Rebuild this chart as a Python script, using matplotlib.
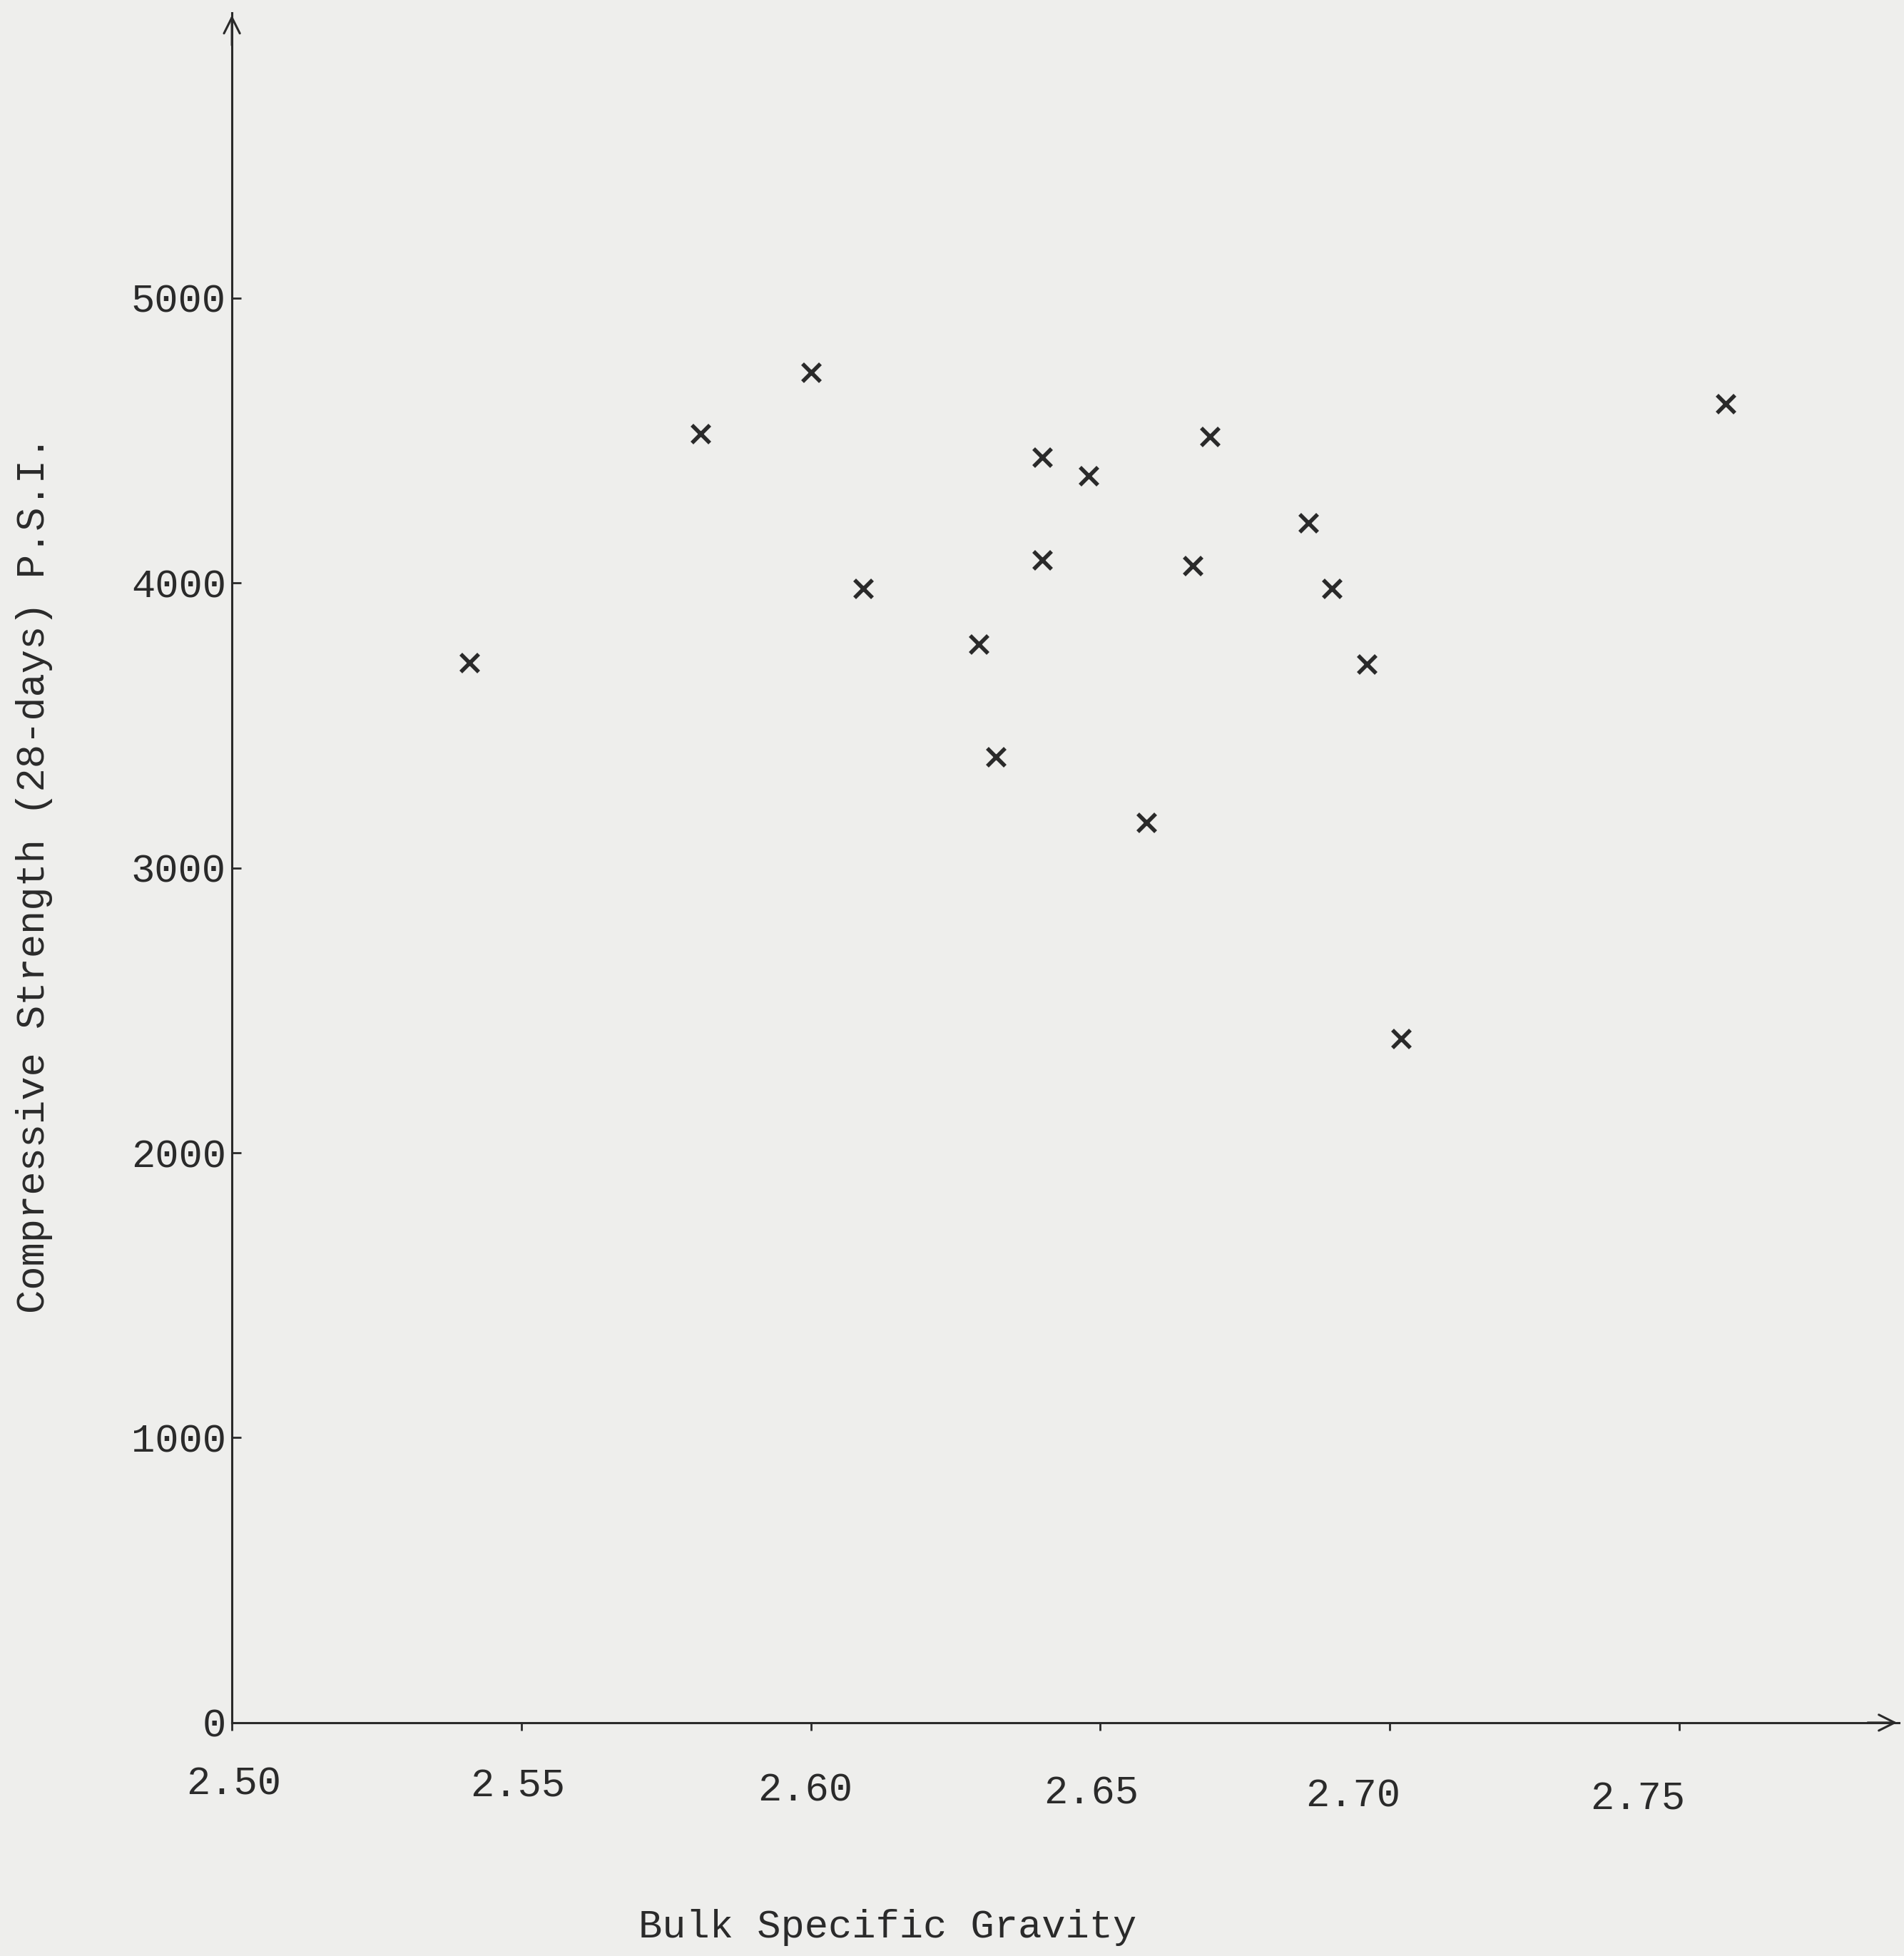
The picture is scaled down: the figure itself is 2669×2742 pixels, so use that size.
import matplotlib.pyplot as plt
from matplotlib.transforms import ScaledTranslation

# Compressive strength vs bulk specific gravity (typed chart)
gravity = [2.541, 2.581, 2.600, 2.609, 2.629, 2.632, 2.640, 2.640, 2.648,
           2.658, 2.666, 2.669, 2.686, 2.690, 2.696, 2.702, 2.758]
strength = [3720, 4525, 4740, 3980, 3785, 3390, 4440, 4080, 4375,
            3160, 4060, 4515, 4210, 3980, 3715, 2400, 4630]
x_ticks = [2.50, 2.55, 2.60, 2.65, 2.70, 2.75]
x_labels = ['2.50', '2.55', '2.60', '2.65', '2.70', '2.75']
y_ticks = [0, 1000, 2000, 3000, 4000, 5000]

paper = '#eeeeec'
ink = '#2a2a2a'
plt.rcParams['font.family'] = ['Liberation Mono', 'DejaVu Sans Mono']

fig = plt.figure(figsize=(26.69, 27.42), dpi=100, facecolor=paper)
ax = fig.add_axes([0.1218, 0.1193, 0.8756, 0.874])
ax.set_facecolor(paper)

ax.plot(gravity, strength, 'x', color=ink, markersize=18, markeredgewidth=4)

ax.set_xlim(2.5, 2.788)
ax.set_ylim(0, 6000)
ax.set_xticks(x_ticks)
ax.set_xticklabels(x_labels)
ax.set_yticks(y_ticks)

for side in ['top', 'right']:
    ax.spines[side].set_visible(False)
for side in ['left', 'bottom']:
    ax.spines[side].set_color(ink)
    ax.spines[side].set_linewidth(2.2)

ax.tick_params(axis='x', direction='out', length=8, width=2, colors=ink,
               labelsize=40, pad=36)
ax.tick_params(axis='y', direction='in', length=9, width=2, colors=ink,
               labelsize=40, pad=6)

# the typed labels drift a little from the ticks
shift_x = [2, -4, -6, -9, -37, -42]
shift_y = [0, -2, -6, -9, -12, -15]
for lab, dx, dy in zip(ax.get_xticklabels(), shift_x, shift_y):
    lab.set_transform(lab.get_transform() +
                      ScaledTranslation(dx / 72, dy / 72, fig.dpi_scale_trans))

# arrow heads at the ends of the axes
ax.annotate('', xy=(1.0, 0), xytext=(0.98, 0), xycoords='axes fraction',
            arrowprops=dict(arrowstyle='->', color=ink, lw=2.2, mutation_scale=40))
ax.annotate('', xy=(0, 1.0), xytext=(0, 0.98), xycoords='axes fraction',
            arrowprops=dict(arrowstyle='->', color=ink, lw=2.2, mutation_scale=40))

fig.text(0.018, 0.553, 'Compressive Strength (28-days) P.S.I.', rotation=90,
         fontsize=40, color=ink, ha='center', va='center')
fig.text(0.466, 0.0146, 'Bulk Specific Gravity', fontsize=40, color=ink,
         ha='center', va='center')

fig.savefig('out.png', dpi=100, facecolor=paper)
